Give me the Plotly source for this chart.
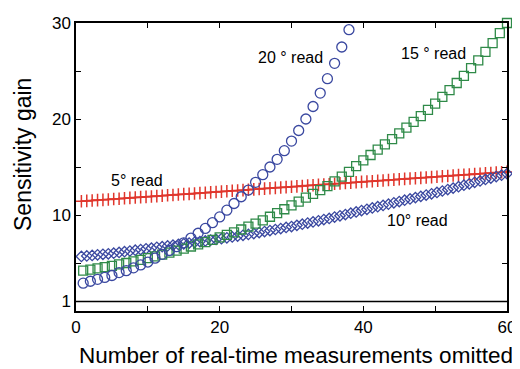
import plotly.graph_objects as go

# ---- data ----
read5_y = [11.43, 11.47, 11.51, 11.55, 11.58, 11.62, 11.66, 11.70, 11.74, 11.78,
           11.82, 11.86, 11.89, 11.93, 11.97, 12.01, 12.05, 12.09, 12.13, 12.17,
           12.20, 12.24, 12.28, 12.32, 12.36, 12.40, 12.44, 12.48, 12.52, 12.55,
           12.59, 12.63, 12.67, 12.71, 12.75, 12.79, 12.83, 12.86, 12.90, 12.94,
           12.98, 13.02, 13.06, 13.10, 13.14, 13.17, 13.21, 13.25, 13.29, 13.33,
           13.37, 13.41, 13.45, 13.49, 13.52, 13.56, 13.60, 13.64, 13.68, 13.72,
           13.76, 13.80, 13.83, 13.87, 13.91, 13.95, 13.99, 14.03, 14.07, 14.11,
           14.15, 14.18, 14.22, 14.26, 14.30, 14.34, 14.38, 14.42, 14.46, 14.49]

read10_y = [5.68, 5.74, 5.79, 5.85, 5.91, 5.96, 6.02, 6.10, 6.18, 6.25,
            6.33, 6.40, 6.48, 6.55, 6.63, 6.70, 6.78, 6.85, 6.93, 7.00,
            7.08, 7.15, 7.23, 7.30, 7.38, 7.45, 7.53, 7.62, 7.71, 7.80,
            7.89, 7.98, 8.07, 8.17, 8.28, 8.38, 8.49, 8.59, 8.70, 8.80,
            8.92, 9.04, 9.16, 9.28, 9.40, 9.52, 9.64, 9.78, 9.92, 10.05,
            10.19, 10.32, 10.46, 10.59, 10.73, 10.86, 11.00, 11.13, 11.27, 11.40,
            11.54, 11.67, 11.81, 11.94, 12.08, 12.21, 12.35, 12.50, 12.65, 12.80,
            12.95, 13.10, 13.25, 13.40, 13.55, 13.70, 13.85, 14.00, 14.15, 14.30]

read15_y = [4.20, 4.32, 4.45, 4.57, 4.70, 4.85, 5.00, 5.16, 5.33, 5.50,
            5.69, 5.88, 6.08, 6.29, 6.50, 6.72, 6.94, 7.17, 7.40, 7.66,
            7.93, 8.20, 8.49, 8.79, 9.10, 9.45, 9.82, 10.20, 10.60, 11.00,
            11.40, 11.80, 12.20, 12.60, 13.00, 13.50, 14.00, 14.50, 15.10, 15.70,
            16.25, 16.80, 17.35, 17.90, 18.50, 19.10, 19.70, 20.30, 20.95, 21.60,
            22.30, 23.00, 23.75, 24.50, 25.30, 26.10, 27.00, 27.90, 28.95, 30.00]

read20_y = [2.9, 3.1, 3.3, 3.5, 3.7, 4.0, 4.2, 4.5, 4.8, 5.1,
            5.5, 5.9, 6.3, 6.7, 7.1, 7.6, 8.1, 8.6, 9.2, 9.8,
            10.5, 11.2, 11.9, 12.6, 13.4, 14.2, 15.0, 15.8, 16.7, 17.7,
            18.8, 20.0, 21.3, 22.7, 24.2, 25.8, 27.5, 29.3]

fine_step = 0.75   # spacing of the dense marker series
read5_x = [fine_step * (i + 1) for i in range(len(read5_y))]
read10_x = [fine_step * (i + 1) for i in range(len(read10_y))]
read15_x = [i + 1 for i in range(len(read15_y))]
read20_x = [i + 1 for i in range(len(read20_y))]

x_ticks = [0, 20, 40, 60]
x_minor = [10, 30, 50]
y_ticks = [1, 10, 20, 30]
y_minor = [5, 15, 25]
baseline = 1

x_title = "Number of real-time measurements omitted"
y_title = "Sensitivity gain"

# label text with its centre in window pixels
labels = [("20 ° read", 290, 57), ("15 ° read", 433, 54),
          ("5° read", 137, 180), ("10° read", 417, 220)]

RED = "#e0362c"
BLUE = "#3a48a0"
GREEN = "#2f8a48"
FONT = "Liberation Sans, Arial, sans-serif"

# page body has an 8px margin; compensate so the plot box sits where the reference's does
OFF = 8
W, H = 520 - OFF, 369 - OFF
L, R, T, B = 76 - OFF, 13, 23 - OFF, 58
pw, ph = W - L - R, H - T - B


def px_to_paper(px, py):
    return (px - OFF - L) / pw, 1 - (py - OFF - T) / ph


fig = go.Figure()

fig.add_trace(go.Scatter(x=[0, 60], y=[baseline, baseline], mode="lines",
                         line=dict(color="black", width=1.5), hoverinfo="skip"))
fig.add_trace(go.Scatter(x=read5_x, y=read5_y, mode="lines+markers",
                         line=dict(color=RED, width=1.5),
                         marker=dict(symbol="cross-thin-open", size=9,
                                     line=dict(color=RED, width=1.5)),
                         cliponaxis=False))
fig.add_trace(go.Scatter(x=read10_x, y=read10_y, mode="markers",
                         marker=dict(symbol="diamond-open", size=8,
                                     color=BLUE, line=dict(color=BLUE, width=1.3)),
                         cliponaxis=False))
fig.add_trace(go.Scatter(x=read15_x, y=read15_y, mode="markers",
                         marker=dict(symbol="square-open", size=9,
                                     color=GREEN, line=dict(color=GREEN, width=1.3)),
                         cliponaxis=False))
fig.add_trace(go.Scatter(x=read20_x, y=read20_y, mode="markers",
                         marker=dict(symbol="circle-open", size=10,
                                     color=BLUE, line=dict(color=BLUE, width=1.3)),
                         cliponaxis=False))

for text, px, py in labels:
    ax, ay = px_to_paper(px, py)
    fig.add_annotation(text=text, x=ax, y=ay,
                       xref="paper", yref="paper", xanchor="center", yanchor="middle",
                       showarrow=False, font=dict(size=16, color="black", family=FONT))

# axis titles placed as in the reference
tx, ty = px_to_paper(296, 355)
fig.add_annotation(text=x_title, x=tx, y=ty, xref="paper", yref="paper",
                   xanchor="center", yanchor="middle", showarrow=False,
                   font=dict(size=22.5, color="black", family=FONT))
tx, ty = px_to_paper(23, 155)
fig.add_annotation(text=y_title, x=tx, y=ty, xref="paper", yref="paper",
                   xanchor="center", yanchor="middle", showarrow=False, textangle=-90,
                   font=dict(size=23, color="black", family=FONT))

axis_common = dict(showline=True, linecolor="black", linewidth=1.5, mirror="ticks",
                   ticks="inside", ticklen=5, tickwidth=1.2, tickcolor="black",
                   showgrid=False, zeroline=False, automargin=False,
                   tickfont=dict(size=17, color="black", family=FONT))

fig.update_xaxes(range=[0, 60], tickmode="array", tickvals=x_ticks,
                 minor=dict(tickmode="array", tickvals=x_minor, ticks="inside",
                            ticklen=5, tickwidth=1.2, tickcolor="black"),
                 **axis_common)
fig.update_yaxes(range=[0, 30], tickmode="array", tickvals=y_ticks,
                 minor=dict(tickmode="array", tickvals=y_minor, ticks="inside",
                            ticklen=5, tickwidth=1.2, tickcolor="black"),
                 **axis_common)

fig.update_layout(width=W, height=H, margin=dict(l=L, r=R, t=T, b=B),
                  paper_bgcolor="white", plot_bgcolor="white", showlegend=False,
                  font=dict(family=FONT))

fig.write_html("out.html")
